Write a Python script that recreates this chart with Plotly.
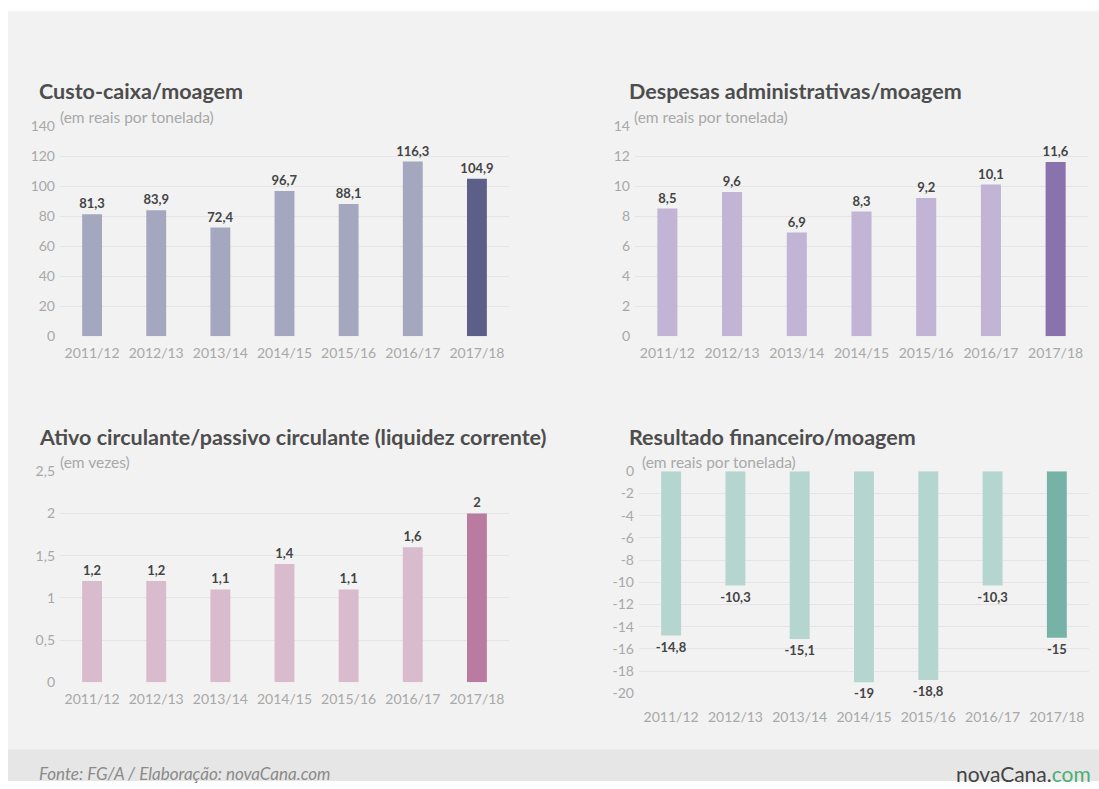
import plotly.graph_objects as go

seasons = ["2011/12", "2012/13", "2013/14", "2014/15", "2015/16", "2016/17", "2017/18"]

custo_caixa = [81.3, 83.9, 72.4, 96.7, 88.1, 116.3, 104.9]
despesas_adm = [8.5, 9.6, 6.9, 8.3, 9.2, 10.1, 11.6]
liquidez = [1.2, 1.2, 1.1, 1.4, 1.1, 1.6, 2]
resultado_fin = [-14.8, -10.3, -15.1, -19, -18.8, -10.3, -15]

ticks_custo = [0, 20, 40, 60, 80, 100, 120, 140]
ticks_desp = [0, 2, 4, 6, 8, 10, 12, 14]
ticks_liq = [0, 0.5, 1, 1.5, 2, 2.5]
ticks_res = [0, -2, -4, -6, -8, -10, -12, -14, -16, -18, -20]

titles = ["Custo-caixa/moagem", "Despesas administrativas/moagem",
          "Ativo circulante/passivo circulante (liquidez corrente)", "Resultado financeiro/moagem"]
subtitles = ["(em reais por tonelada)", "(em reais por tonelada)", "(em vezes)", "(em reais por tonelada)"]

colors = [("#a5a7bf", "#5c6089"), ("#c1b4d4", "#8a72ad"), ("#d8bbcd", "#b97b9f"), ("#b4d6cf", "#76b3a6")]

W, H = 1099, 789
FONT = "Lato"
# observed mapping of the photographed page: photo_y = OFF + SC * figure_y
OFF, SC = 8.0, 0.978


def fmt(v):
    return ("%g" % v).replace(".", ",")


def fx(px):
    return px / W


def fy(py):
    return 1 - ((py - OFF) / SC) / H


domains = [
    ([fx(60), fx(509)], [fy(335), fy(125)]),
    ([fx(635), fx(1088)], [fy(335), fy(125)]),
    ([fx(60), fx(509)], [fy(681), fy(470)]),
    ([fx(639), fx(1089)], [fy(692), fy(470)]),
]
xstand = [7, 7, 7, 14]
data_sets = [custo_caixa, despesas_adm, liquidez, resultado_fin]
tick_sets = [ticks_custo, ticks_desp, ticks_liq, ticks_res]
ranges = [[0, 140], [0, 14], [0, 2.5], [-20, 0]]

fig = go.Figure()
layout_axes = {}
for i in range(4):
    n = "" if i == 0 else str(i + 1)
    vals = data_sets[i]
    light, dark = colors[i]
    bar_colors = [light] * (len(vals) - 1) + [dark]
    fig.add_trace(go.Bar(
        x=seasons, y=vals, xaxis="x" + n, yaxis="y" + n,
        marker=dict(color=bar_colors, line=dict(width=0)),
        width=0.31,
        text=[fmt(v) for v in vals], textposition="outside", cliponaxis=False,
        constraintext="none",
        textfont=dict(family=FONT, size=13, color="#444444", weight="bold"),
        showlegend=False, hoverinfo="skip",
    ))
    xd, yd = domains[i]
    layout_axes["xaxis" + n] = dict(
        domain=xd, anchor="y" + n, type="category", showgrid=False, showline=False,
        zeroline=False, ticks="", ticklabelstandoff=xstand[i],
        tickfont=dict(family=FONT, size=14, color="#a8a8a8"),
        fixedrange=True,
    )
    layout_axes["yaxis" + n] = dict(
        domain=yd, anchor="x" + n, range=ranges[i], tickvals=tick_sets[i],
        ticktext=[fmt(t) for t in tick_sets[i]],
        showgrid=True, gridcolor="#e5e5e5", gridwidth=1, zeroline=False, showline=False,
        ticks="", ticklabelstandoff=4,
        tickfont=dict(family=FONT, size=14, color="#a8a8a8"), fixedrange=True,
    )

fig.update_layout(**layout_axes)

title_pos = [(37, 90), (627, 90), (37, 436), (627, 436)]
sub_pos = [(58, 116), (632, 116), (58, 461), (640, 461)]
ann = []
for i in range(4):
    tx, ty = title_pos[i]
    ann.append(dict(text=titles[i], x=fx(tx), y=fy(ty), xref="paper", yref="paper",
                    xanchor="left", yanchor="middle", showarrow=False,
                    font=dict(family=FONT, size=21.5, color="#4d4d4d", weight="bold")))
    sx, sy = sub_pos[i]
    ann.append(dict(text=subtitles[i], x=fx(sx), y=fy(sy), xref="paper", yref="paper",
                    xanchor="left", yanchor="middle", showarrow=False,
                    font=dict(family=FONT, size=15.5, color="#a8a8a8")))

ann.append(dict(text="<i>Fonte: FG/A / Elaboração: novaCana.com</i>", x=fx(37), y=fy(772),
                xref="paper", yref="paper", xanchor="left", yanchor="middle", showarrow=False,
                font=dict(family=FONT, size=17, color="#8a8a8a")))
ann.append(dict(text="<span style='color:#444444'>novaCana.</span><span style='color:#4caf72'>com</span>",
                x=fx(1093), y=fy(772), xref="paper", yref="paper", xanchor="right",
                yanchor="middle", showarrow=False,
                font=dict(family="Lato", size=21, color="#444444")))

shapes = [
    dict(type="rect", xref="paper", yref="paper", x0=fx(8), x1=1, y0=fy(748), y1=fy(10),
         fillcolor="#f2f2f2", line=dict(width=0), layer="below"),
    dict(type="rect", xref="paper", yref="paper", x0=fx(8), x1=1, y0=0, y1=fy(748),
         fillcolor="#e6e6e6", line=dict(width=0), layer="below"),
]

fig.update_layout(
    width=W, height=H, margin=dict(l=0, r=0, t=0, b=0),
    paper_bgcolor="#ffffff", plot_bgcolor="rgba(0,0,0,0)",
    annotations=ann, shapes=shapes,
    font=dict(family=FONT),
)

post = """
document.documentElement.style.margin='0';
document.body.style.margin='0';
document.body.style.overflow='hidden';
document.documentElement.style.background='linear-gradient(to right, #ffffff 8px, rgba(0,0,0,0) 8px), linear-gradient(to bottom, #ffffff 50%, #e6e6e6 50%)';
document.documentElement.style.minHeight='100%';
"""

fig.write_html("out.html", config={"displayModeBar": False}, post_script=post)
